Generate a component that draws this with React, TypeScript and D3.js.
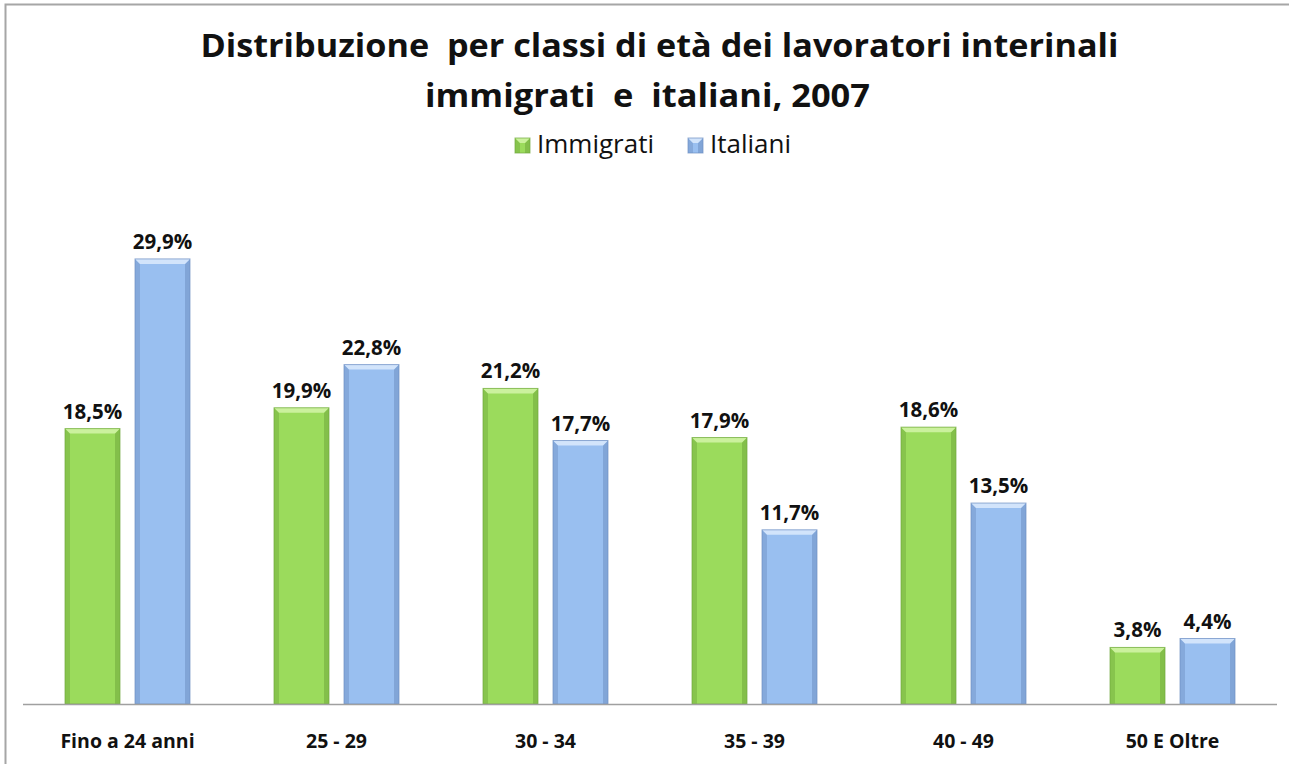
import React, { useEffect } from "react";
import * as d3 from "d3";

const categories = ["Fino a 24 anni", "25 - 29", "30 - 34", "35 - 39", "40 - 49", "50 E Oltre"];
const seriesNames = ["Immigrati", "Italiani"];
const immigrati = [18.5, 19.9, 21.2, 17.9, 18.6, 3.8];
const italiani = [29.9, 22.8, 17.7, 11.7, 13.5, 4.4];
const titleLines = ["Distribuzione  per classi di età dei lavoratori interinali", "immigrati  e  italiani, 2007"];

const W = 1289;
const H = 764;
const baseY = 704;

const palette: Record<string, { main: string; dark: string; light: string }> = {
  Immigrati: { main: "#9bdb5c", dark: "#6fa83c", light: "#cbf19d" },
  Italiani: { main: "#99bff0", dark: "#6d8fc2", light: "#d2e4fb" },
};

const fmt = (v: number) => v.toFixed(1).replace(".", ",") + "%";

function BevelBar({ x, y, w, h, name }: { x: number; y: number; w: number; h: number; name: string }) {
  const c = palette[name];
  const e = Math.min(5, h / 2);
  return (
    <g>
      <rect x={x} y={y} width={w} height={h} fill={c.main} />
      <polygon points={`${x},${y} ${x + e},${y + e} ${x + e},${y + h} ${x},${y + h}`} fill={c.dark} opacity={0.45} />
      <polygon points={`${x + w},${y} ${x + w - e},${y + e} ${x + w - e},${y + h} ${x + w},${y + h}`} fill={c.dark} opacity={0.55} />
      <polygon points={`${x},${y} ${x + w},${y} ${x + w - e},${y + e} ${x + e},${y + e}`} fill={c.light} />
      <rect x={x} y={y} width={w} height={h} fill="none" stroke={c.dark} strokeWidth={1} opacity={0.7} />
    </g>
  );
}

export default function App() {
  useEffect(() => {
    // no scrollbars, chart sits at the page corner
    document.body.style.margin = "0";
    document.body.style.overflow = "hidden";
    document.documentElement.style.overflow = "hidden";
  }, []);

  const x0 = d3.scaleBand<string>().domain(categories).range([23, 1277]).paddingInner(0).paddingOuter(0);
  const bw = x0.bandwidth();
  const x1 = d3
    .scaleBand<string>()
    .domain(seriesNames)
    .range([bw / 2 - 62.5, bw / 2 + 62.5])
    .paddingInner(15 / 70)
    .paddingOuter(0);
  const y = d3.scaleLinear().domain([0, 35]).range([baseY, 183]);

  const table = categories.map((c, i) => ({ cat: c, values: [immigrati[i], italiani[i]] }));
  const font = "'Open Sans', sans-serif";

  return (
    <svg
      width={W}
      height={H}
      style={{ position: "absolute", left: 0, top: 0, background: "#fff", overflow: "hidden", display: "block" }}
      fontFamily={font}
    >
      <path d={`M5.5,${H + 5} V4.5 H${W + 5}`} fill="none" stroke="#a6a6a6" strokeWidth={2} />
      {titleLines.map((t, i) => (
        <text
          key={i}
          x={W / 2 + (i === 0 ? 15 : 3)}
          y={57 + i * 50}
          textAnchor="middle"
          fontSize={33}
          fontWeight={700}
          fill="#111"
          style={{ whiteSpace: "pre" }}
          textLength={i === 0 ? 918 : 445}
          lengthAdjust="spacingAndGlyphs"
        >
          {t}
        </text>
      ))}
      {/* legend */}
      {seriesNames.map((s, i) => {
        const lx = i === 0 ? 515 : 688;
        return (
          <g key={s}>
            <BevelBar x={lx} y={138} w={15} h={15} name={s} />
            <text x={lx + 22} y={153} fontSize={26} fill="#111">
              {s}
            </text>
          </g>
        );
      })}
      {table.map((d) => (
        <g key={d.cat} transform={`translate(${x0(d.cat)},0)`}>
          {d.values.map((v, j) => {
            const s = seriesNames[j];
            const bx = x1(s)!;
            return (
              <g key={s}>
                <BevelBar x={bx} y={y(v)} w={x1.bandwidth()} h={baseY - y(v)} name={s} />
                <text
                  x={bx + x1.bandwidth() / 2}
                  y={y(v) - 10}
                  textAnchor="middle"
                  fontSize={20.5}
                  fontWeight={700}
                  fill="#111"
                >
                  {fmt(v)}
                </text>
              </g>
            );
          })}
          <text x={bw / 2} y={748} textAnchor="middle" fontSize={19.5} fontWeight={700} fill="#111">
            {d.cat}
          </text>
        </g>
      ))}
      <line x1={23} x2={1277} y1={baseY + 0.5} y2={baseY + 0.5} stroke="#a0a0a0" strokeWidth={1.5} />
    </svg>
  );
}
